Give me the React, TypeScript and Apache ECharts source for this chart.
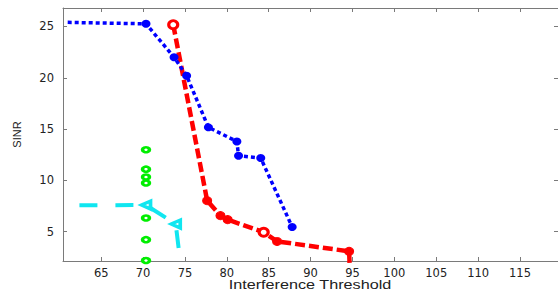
import React, { useEffect, useRef } from "react";
import * as echarts from "echarts";

const xTicks = [65, 70, 75, 80, 85, 90, 95, 100, 105, 110, 115];
const yTicks = [5, 10, 15, 20, 25];

const blueX = [61.0, 70.35, 73.7, 75.2, 77.8, 81.2, 81.4, 84.05, 87.8];
const blueY = [25.4, 25.26, 22.0, 20.2, 15.17, 13.8, 12.4, 12.18, 5.47];

const redX = [73.6, 77.65, 79.24, 80.1, 84.4, 86.0, 94.6, 94.7];
const redY = [25.17, 8.03, 6.57, 6.18, 4.95, 4.06, 3.09, 1.0];

const greenX = [70.35, 70.35, 70.35, 70.35, 70.35, 70.35, 70.35];
const greenY = [12.99, 11.1, 10.33, 9.75, 6.34, 4.23, 2.2];

const cyanX = [62.4, 70.35, 73.9, 74.6];
const cyanY = [7.57, 7.6, 5.75, 1.0];

const X_MIN = 60.44;
const X_MAX = 119.54;
const Y_MIN = 2.15;
const Y_MAX = 26.8;

export default function App() {
  const ref = useRef<HTMLDivElement>(null);

  useEffect(() => {
    if (!ref.current) return;
    const chart = echarts.init(ref.current, undefined, { renderer: "svg" });
    const axisColor = "#7a7a7a";
    const RED = "#ff0000";
    const BLUE = "#0000ff";
    const GREEN = "#00ee00";
    const CYAN = "#10e6f0";
    const labelStyle = {
      color: "#222",
      fontFamily: "DejaVu Sans",
      fontSize: 11.5,
    };

    const redHollow = [0, 4];
    const redData = redX.map((x, i) => ({
      value: [x, redY[i]],
      symbol: "circle",
      itemStyle: redHollow.includes(i)
        ? { color: "#fff", borderColor: RED, borderWidth: 3 }
        : { color: RED, borderColor: RED, borderWidth: 1 },
    }));
    const blueData = blueX.map((x, i) => ({
      value: [x, blueY[i]],
      symbol: i === 0 ? "none" : "circle",
    }));
    const cyanData = cyanX.map((x, i) => ({
      value: [x, cyanY[i]],
      symbol: i === 1 || i === 2 ? "triangle" : "none",
    }));
    const greenData = greenX.map((x, i) => [x, greenY[i]]);

    chart.setOption({
      animation: false,
      backgroundColor: "#fff",
      grid: { left: 63, top: 8, width: 498.6, height: 253 },
      xAxis: [
        {
          type: "value",
          min: X_MIN,
          max: X_MAX,
          position: "bottom",
          axisLine: { lineStyle: { color: axisColor, width: 1 } },
          axisTick: {
            inside: true,
            length: 4,
            customValues: xTicks,
            lineStyle: { color: axisColor },
          },
          axisLabel: { ...labelStyle, margin: 6, customValues: xTicks },
          splitLine: { show: false },
        },
        {
          type: "value",
          min: X_MIN,
          max: X_MAX,
          position: "top",
          axisLine: { lineStyle: { color: axisColor, width: 1 } },
          axisTick: {
            inside: true,
            length: 4,
            customValues: xTicks,
            lineStyle: { color: axisColor },
          },
          axisLabel: { show: false },
          splitLine: { show: false },
        },
      ],
      yAxis: [
        {
          type: "value",
          min: Y_MIN,
          max: Y_MAX,
          position: "left",
          name: "SINR",
          nameLocation: "middle",
          nameRotate: 90,
          nameGap: 41,
          nameTextStyle: {
            color: "#222",
            fontFamily: "Liberation Sans",
            fontSize: 11,
          },
          axisLine: { show: true, lineStyle: { color: axisColor, width: 1 } },
          axisTick: {
            show: true,
            inside: true,
            length: 4,
            customValues: yTicks,
            lineStyle: { color: axisColor },
          },
          axisLabel: { ...labelStyle, margin: 9, customValues: yTicks },
          splitLine: { show: false },
        },
        {
          type: "value",
          min: Y_MIN,
          max: Y_MAX,
          position: "right",
          axisLine: { show: true, lineStyle: { color: axisColor, width: 1 } },
          axisTick: {
            show: true,
            inside: true,
            length: 4,
            customValues: yTicks,
            lineStyle: { color: axisColor },
          },
          axisLabel: { show: false },
          splitLine: { show: false },
        },
      ],
      graphic: [
        {
          type: "text",
          x: 310,
          y: 285,
          scaleX: 1.35,
          style: {
            text: "Interference Threshold",
            fill: "#222",
            font: "12px 'Liberation Sans'",
            textAlign: "center",
            textVerticalAlign: "middle",
          },
        },
      ],
      series: [
        {
          type: "line",
          name: "green",
          data: greenData,
          lineStyle: { width: 0, opacity: 0 },
          symbol: "circle",
          symbolSize: [7, 5],
          itemStyle: { color: "#fff", borderColor: GREEN, borderWidth: 3 },
          z: 2,
        },
        {
          type: "line",
          name: "cyan",
          data: cyanData,
          lineStyle: { color: CYAN, width: 4, type: [18, 18] },
          symbolSize: [8, 9],
          symbolRotate: 90,
          itemStyle: { color: "#fff", borderColor: CYAN, borderWidth: 3.5 },
          z: 3,
        },
        {
          type: "line",
          name: "red",
          data: redData,
          lineStyle: { color: RED, width: 4.5, type: [10, 4] },
          symbolSize: [9, 8],
          itemStyle: { color: RED },
          z: 4,
        },
        {
          type: "line",
          name: "blue",
          data: blueData,
          lineStyle: { color: BLUE, width: 3.5, type: [4, 3] },
          symbolSize: [9, 8],
          itemStyle: { color: BLUE },
          z: 5,
        },
      ],
    });

    return () => chart.dispose();
  }, []);

  return (
    <div
      ref={ref}
      style={{ position: "fixed", left: 0, top: 0, width: 558, height: 297 }}
    />
  );
}
